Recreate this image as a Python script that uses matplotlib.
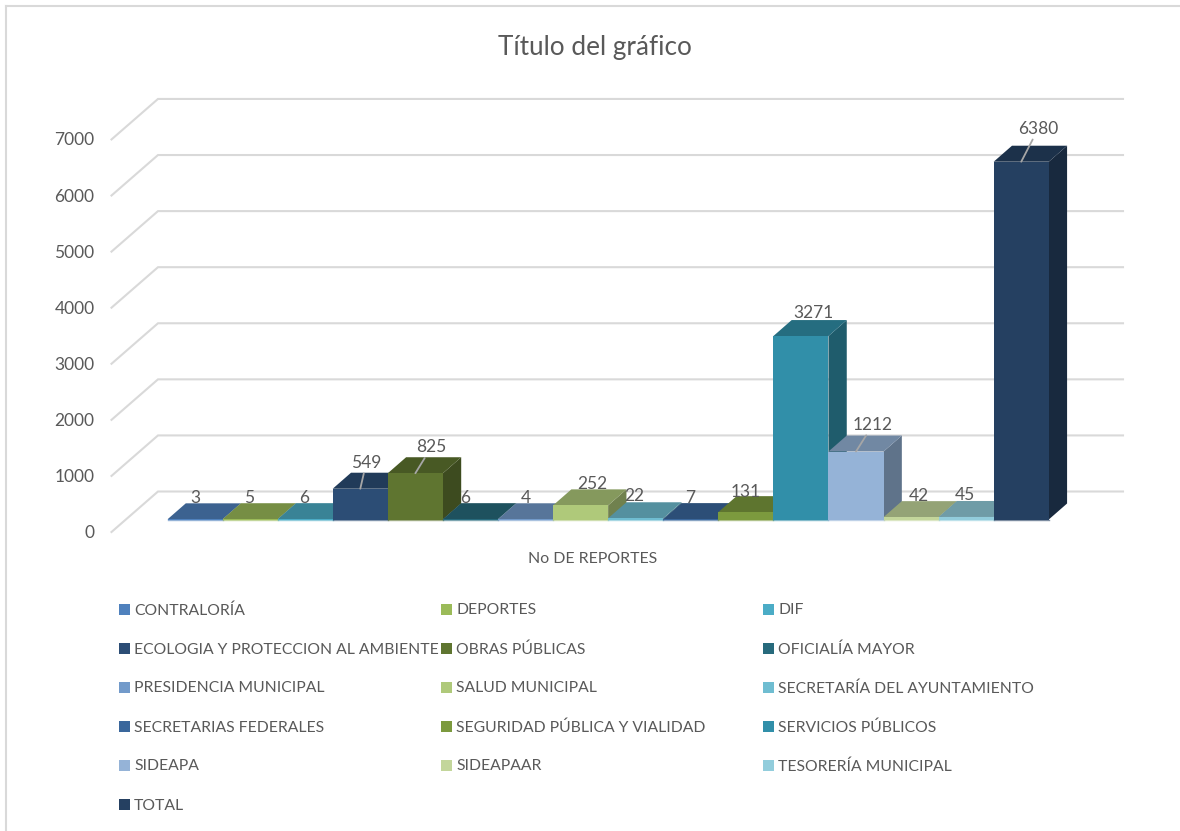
import matplotlib
matplotlib.use("Agg")
import matplotlib.pyplot as plt
from matplotlib.colors import to_rgb
from matplotlib.patches import Polygon, Rectangle

##### data
categories = ["CONTRALORÍA", "DEPORTES", "DIF",
              "ECOLOGIA Y PROTECCION AL AMBIENTE", "OBRAS PÚBLICAS", "OFICIALÍA MAYOR",
              "PRESIDENCIA MUNICIPAL", "SALUD MUNICIPAL", "SECRETARÍA DEL AYUNTAMIENTO",
              "SECRETARIAS FEDERALES", "SEGURIDAD PÚBLICA Y VIALIDAD", "SERVICIOS PÚBLICOS",
              "SIDEAPA", "SIDEAPAAR", "TESORERÍA MUNICIPAL",
              "TOTAL"]
reportes = [3, 5, 6, 549, 825, 6, 4, 252, 22, 7, 131, 3271, 1212, 42, 45, 6380]
y_ticks = [0, 1000, 2000, 3000, 4000, 5000, 6000, 7000]
title = "Título del gráfico"
x_label = "No DE REPORTES"

##### styles
colors = ["#4F81BD", "#9BBB59", "#4BACC6", "#2C4D75", "#5F7530", "#276A7C",
          "#729ACA", "#AFC97A", "#6FBDD1", "#3A679C", "#7C9A3E", "#318FA9",
          "#95B3D7", "#C3D69B", "#92CDDC", "#254061"]
# label offset from the top of the front face, in pixels (moved by hand in the original)
label_dx = [0, -1, -1, 6, 16, -5, 0, 12, -1, -1, 0, 13, 17, 8, -1, 17]
label_dy = [21, 21, 21, 26, 26, 21, 21, 21, 22, 21, 20, 23, 27, 21, 22, 33]
with_leader = [3, 4, 12, 15]

TEXT = "#595959"
GRID = "#D9D9D9"
FONT = "Lato"

W, H = 1180, 831
BAR_PX = 55.08
UNIT_PX = 0.05608
X0, Y0 = 167.5, 519.5

def px_x(p):
    return (p - X0) / BAR_PX

def px_y(p):
    return (Y0 - p) / UNIT_PX

def shade(c, f):
    return tuple(v * f for v in to_rgb(c))

fig = plt.figure(figsize=(W / 100, H / 100), dpi=100)
ax = fig.add_axes([0, 0, 1, 1])
ax.set_xlim(px_x(0), px_x(W))
ax.set_ylim(px_y(H), px_y(0))
ax.axis("off")

# depth of the bars and of the floor, in data units
bar_dx, bar_dy = 18.3 / BAR_PX, 16 / UNIT_PX
wall_front_x, wall_front_y = px_x(111.5), -12.5 / UNIT_PX
wall_back_x, wall_back_y = px_x(158), 28 / UNIT_PX
wall_right_x = px_x(1123)

# outer frame
ax.plot([px_x(6), px_x(6)], [px_y(H), px_y(6)], color=GRID, lw=1.5, zorder=1)
ax.plot([px_x(6), px_x(W)], [px_y(6), px_y(6)], color=GRID, lw=1.5, zorder=1)

# gridlines and tick labels
for v in y_ticks:
    ax.plot([wall_front_x, wall_back_x, wall_right_x],
            [v + wall_front_y, v + wall_back_y, v + wall_back_y],
            color=GRID, lw=1.5, zorder=1, solid_joinstyle="miter")
    ax.text(px_x(94.5), v + wall_front_y - 1 / UNIT_PX, str(v), ha="right", va="center",
            color=TEXT, fontsize=12.5, family=FONT)

# bars, left to right so that each one hides what is behind it
for i, (v, c) in enumerate(zip(reportes, colors)):
    z = 3 + i
    top = shade(c, 0.76)
    side = shade(c, 0.64)
    ax.add_patch(Polygon([(i + 1, 0), (i + 1 + bar_dx, bar_dy), (i + 1 + bar_dx, v + bar_dy), (i + 1, v)],
                         fc=side, ec="none", zorder=z))
    ax.add_patch(Polygon([(i, v), (i + bar_dx, v + bar_dy), (i + 1 + bar_dx, v + bar_dy), (i + 1, v)],
                         fc=top, ec="none", zorder=z))
    ax.bar(i, v, width=1, align="edge", color=c, zorder=z)
    # thin light edge along the floor
    ax.plot([i, i + 1], [0, 0], color=c, lw=1.0, alpha=0.6, zorder=z)

# data labels
for i, v in enumerate(reportes):
    arrow = None
    if i in with_leader:
        arrow = dict(arrowstyle="-", color="#A6A6A6", lw=1.3, shrinkA=0, shrinkB=0)
    ax.annotate(str(v), xy=(i + 0.5, v), xytext=(label_dx[i], label_dy[i]),
                textcoords="offset pixels", ha="center", va="center",
                color=TEXT, fontsize=12.5, family=FONT, arrowprops=arrow, zorder=30)

ax.text(px_x(595), px_y(47), title, ha="center", va="center", color=TEXT, fontsize=18.8, family=FONT)
ax.text(px_x(593), px_y(559), x_label, ha="center", va="center", color=TEXT, fontsize=11.4, family=FONT)

# legend, three columns filled row by row
col_swatch = [118.5, 441, 763]
col_text = [134, 456, 778]
row_y = [609, 648, 687, 726, 765, 804]
for i, (name, c) in enumerate(zip(categories, colors)):
    r, k = divmod(i, 3)
    ax.add_patch(Rectangle((px_x(col_swatch[k]), px_y(row_y[r] + 5.5)), 11 / BAR_PX, 11 / UNIT_PX,
                           fc=c, ec="none", zorder=2))
    ax.text(px_x(col_text[k]), px_y(row_y[r] + 1.5), name, ha="left", va="center",
            color=TEXT, fontsize=11.3, family=FONT)

fig.savefig("out.png", dpi=100)
